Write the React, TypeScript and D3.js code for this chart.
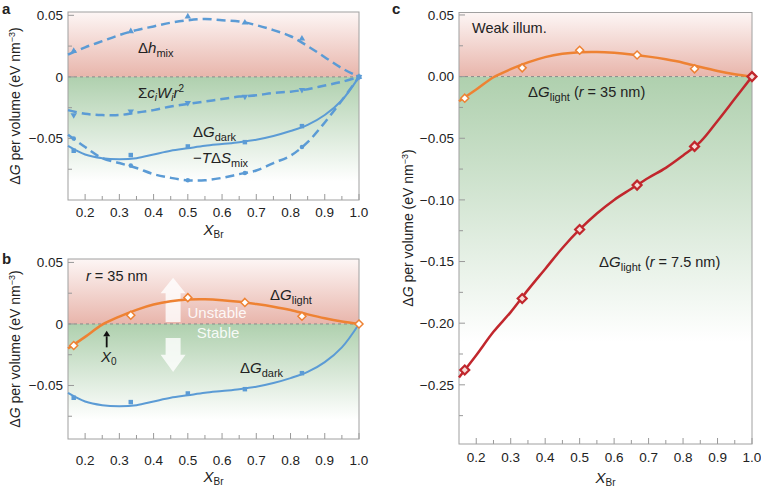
import React from "react";
import * as d3 from "d3";

const FONT = "'Liberation Sans', Arial, Helvetica, sans-serif";
const BLUE = "#5b9bd5";
const ORANGE = "#ee8233";
const RED = "#c1272d";
const TXT = "#222";

// ---------- data ----------
const markerX = [1 / 6, 1 / 3, 0.5, 2 / 3, 5 / 6, 1.0];
const fitX = [0.15, 0.2, 0.25, 0.3, 0.35, 0.4, 0.45, 0.5, 0.55, 0.6, 0.65, 0.7, 0.75, 0.8, 0.85, 0.9, 0.95, 1.0];

// panel a
const hmixMarkers = [0.021, 0.037, 0.049, 0.044, 0.031, 0];
const hmixFit = [0.018, 0.024, 0.029, 0.034, 0.038, 0.041, 0.044, 0.046, 0.047, 0.046, 0.045, 0.042, 0.038, 0.033, 0.025, 0.016, 0.007, 0];
const sigmaMarkers = [-0.031, -0.028, -0.021, -0.016, -0.0105, 0];
const sigmaFit = [-0.027, -0.03, -0.031, -0.031, -0.029, -0.027, -0.024, -0.022, -0.02, -0.018, -0.016, -0.015, -0.013, -0.012, -0.01, -0.007, -0.004, 0];
const tdsMarkers = [-0.05, -0.072, -0.084, -0.078, -0.057, 0];
const tdsFit = [-0.047, -0.057, -0.066, -0.07, -0.074, -0.079, -0.082, -0.084, -0.084, -0.082, -0.079, -0.076, -0.07, -0.064, -0.053, -0.037, -0.019, 0];
const darkMarkers = [-0.06, -0.0635, -0.0565, -0.053, -0.04, 0];
const darkFit = [-0.056, -0.063, -0.066, -0.0668, -0.066, -0.063, -0.06, -0.058, -0.056, -0.0545, -0.053, -0.051, -0.048, -0.044, -0.039, -0.031, -0.019, 0];

// panel b / c
const lightMarkers = [-0.0175, 0.0071, 0.0214, 0.0175, 0.0063, 0];
const lightFit = [-0.02, -0.0105, -0.0005, 0.006, 0.0115, 0.0158, 0.0185, 0.0198, 0.02, 0.0193, 0.018, 0.0162, 0.014, 0.0113, 0.0078, 0.0046, 0.002, 0];
const redMarkers = [-0.238, -0.18, -0.124, -0.088, -0.0566, 0];
const redFit = [-0.244, -0.226, -0.207, -0.191, -0.173, -0.156, -0.139, -0.124, -0.111, -0.1, -0.091, -0.082, -0.074, -0.064, -0.053, -0.036, -0.018, 0];

// ticks
const xTickLabels = [0.2, 0.3, 0.4, 0.5, 0.6, 0.7, 0.8, 0.9, 1.0];
const xMinorTicks = [0.25, 0.35, 0.45, 0.55, 0.65, 0.75, 0.85, 0.95];
const yTicksAB = [0.05, 0, -0.05];
const yMinorAB = [0.025, -0.025, -0.075];
const yTicksC = [0.05, 0, -0.05, -0.1, -0.15, -0.2, -0.25];
const yMinorC = [0.025, -0.025, -0.075, -0.125, -0.175, -0.225, -0.275];

type Sc = d3.ScaleLinear<number, number>;

const fmtAB = (v: number) => (v === 0 ? "0" : (v < 0 ? "\u2212" : "") + Math.abs(v).toFixed(2));
const fmtC = (v: number) => (v < 0 ? "\u2212" : "") + Math.abs(v).toFixed(2);

function Frame({ id, x, y, yTicks, yMinor, fmt, fadeVal, tickLabelY, xLabelY }: any) {
  const [x0, x1] = x.range();
  const [y1, y0] = y.range(); // y1 bottom, y0 top
  const yz = y(0);
  const yf = y(fadeVal);
  return (
    <g>
      <defs>
        <linearGradient id={id + "pink"} gradientUnits="userSpaceOnUse" x1={0} x2={0} y1={y0} y2={yz}>
          <stop offset="0" stopColor="#fdf6f5" />
          <stop offset="1" stopColor="#e8b5ab" />
        </linearGradient>
        <linearGradient id={id + "green"} gradientUnits="userSpaceOnUse" x1={0} x2={0} y1={yz} y2={yf}>
          <stop offset="0" stopColor="#afd0ae" />
          <stop offset="1" stopColor="#ffffff" />
        </linearGradient>
      </defs>
      <rect x={x0} y={y0} width={x1 - x0} height={yz - y0} fill={`url(#${id}pink)`} />
      <rect x={x0} y={yz} width={x1 - x0} height={y1 - yz} fill={`url(#${id}green)`} />
      <line x1={x0} x2={x1} y1={yz} y2={yz} stroke="#888" strokeWidth={1} strokeDasharray="3,3" />
      {xTickLabels.map((t) => (
        <line key={"xt" + t} x1={x(t)} x2={x(t)} y1={y1} y2={y1 - 6} stroke="#999" />
      ))}
      {xMinorTicks.map((t) => (
        <line key={"xm" + t} x1={x(t)} x2={x(t)} y1={y1} y2={y1 - 4} stroke="#999" />
      ))}
      {yTicks.map((t: number) => (
        <line key={"yt" + t} x1={x0} x2={x0 + 6} y1={y(t)} y2={y(t)} stroke="#999" />
      ))}
      {yMinor.map((t: number) => (
        <line key={"ym" + t} x1={x0} x2={x0 + 4} y1={y(t)} y2={y(t)} stroke="#999" />
      ))}
      <rect x={x0} y={y0} width={x1 - x0} height={y1 - y0} fill="none" stroke="#a0a0a0" strokeWidth={1} />
      {xTickLabels.map((t) => (
        <text key={"xl" + t} x={x(t)} y={tickLabelY} textAnchor="middle" fontSize={13.5} fill={TXT}>
          {t.toFixed(1)}
        </text>
      ))}
      {yTicks.map((t: number) => (
        <text key={"yl" + t} x={x0 - 5} y={y(t)} dy="0.35em" textAnchor="end" fontSize={13.5} fill={TXT}>
          {fmt(t)}
        </text>
      ))}
      <text x={(x0 + x1) / 2} y={xLabelY} textAnchor="middle" fontSize={15} fill={TXT}>
        <tspan fontStyle="italic">X</tspan>
        <tspan fontSize={10} dy={3}>Br</tspan>
      </text>
    </g>
  );
}

function YTitle({ x, y }: { x: number; y: number }) {
  return (
    <text transform={`translate(${x},${y}) rotate(-90)`} textAnchor="middle" fontSize={14} fill={TXT}>
      {"\u0394"}
      <tspan fontStyle="italic">G</tspan>
      {" per volume (eV nm"}
      <tspan fontSize={9} dy={-5}>{"\u22123"}</tspan>
      <tspan dy={5}>)</tspan>
    </text>
  );
}

function fitPath(x: Sc, y: Sc, vals: number[]) {
  const pts = fitX.map((v, i) => [x(v), y(vals[i])] as [number, number]);
  return d3.line().curve(d3.curveCatmullRom.alpha(0.5))(pts) || "";
}

function diamond(cx: number, cy: number, r: number) {
  return `M${cx},${cy - r}L${cx + r},${cy}L${cx},${cy + r}L${cx - r},${cy}Z`;
}

export default function App() {
  const xa = d3.scaleLinear().domain([0.15, 1.0]).range([68, 359]);
  const ya = d3.scaleLinear().domain([-0.1, 0.0527]).range([200, 12]);
  const xb = d3.scaleLinear().domain([0.15, 1.0]).range([68, 359]);
  const yb = d3.scaleLinear().domain([-0.0935, 0.0528]).range([439, 259]);
  const xc = d3.scaleLinear().domain([0.15, 1.0]).range([459, 752]);
  const yc = d3.scaleLinear().domain([-0.298, 0.052]).range([444, 12.5]);

  const tri = d3.symbol().type(d3.symbolTriangle).size(18);
  const sq = d3.symbol().type(d3.symbolSquare).size(20);
  const circ = d3.symbol().type(d3.symbolCircle).size(16);

  const arrow = (x: Sc, y: Sc, xv: number, from: number, base: number, tip: number, sw: number, hw: number) => {
    const cx = x(xv);
    const yF = y(from), yB = y(base), yT = y(tip);
    return `M${cx - sw},${yF}L${cx - sw},${yB}L${cx - hw},${yB}L${cx},${yT}L${cx + hw},${yB}L${cx + sw},${yB}L${cx + sw},${yF}Z`;
  };

  return (
    <svg width={761} height={489} style={{ position: "absolute", left: 0, top: 0, fontFamily: FONT }}>
      <rect width={761} height={489} fill="#fff" />

      {/* ================= panel a ================= */}
      <Frame id="a" x={xa} y={ya} yTicks={yTicksAB} yMinor={yMinorAB} fmt={fmtAB} fadeVal={-0.085} tickLabelY={217} xLabelY={235} />
      <YTitle x={20} y={106} />
      <text x={2} y={14} fontSize={15} fontWeight="bold" fill={TXT}>a</text>
      <path d={fitPath(xa, ya, hmixFit)} fill="none" stroke={BLUE} strokeWidth={2.5} strokeDasharray="9,5" />
      <path d={fitPath(xa, ya, sigmaFit)} fill="none" stroke={BLUE} strokeWidth={2.5} strokeDasharray="9,5" />
      <path d={fitPath(xa, ya, tdsFit)} fill="none" stroke={BLUE} strokeWidth={2.5} strokeDasharray="9,5" />
      <path d={fitPath(xa, ya, darkFit)} fill="none" stroke={BLUE} strokeWidth={2} />
      {markerX.map((v, i) => (
        <g key={"am" + i} fill={BLUE}>
          <path transform={`translate(${xa(v)},${ya(hmixMarkers[i])})`} d={tri() || ""} />
          <path transform={`translate(${xa(v)},${ya(sigmaMarkers[i])}) rotate(180)`} d={tri() || ""} />
          <path transform={`translate(${xa(v)},${ya(tdsMarkers[i])})`} d={circ() || ""} />
          <path transform={`translate(${xa(v)},${ya(darkMarkers[i])})`} d={sq() || ""} />
        </g>
      ))}
      <text x={138} y={53} fontSize={15} fill={TXT}>
        {"\u0394"}<tspan fontStyle="italic">h</tspan>
        <tspan fontSize={11} dy={4}>mix</tspan>
      </text>
      <text x={138} y={98} fontSize={15} fill={TXT}>
        {"\u03A3"}<tspan fontStyle="italic">c</tspan>
        <tspan fontSize={10} dy={3} fontStyle="italic">i</tspan>
        <tspan dy={-3} fontStyle="italic">W</tspan>
        <tspan fontSize={10} dy={3} fontStyle="italic">i</tspan>
        <tspan dy={-3} fontStyle="italic">r</tspan>
        <tspan fontSize={10} dy={-6}>2</tspan>
      </text>
      <text x={193} y={137} fontSize={15} fill={TXT}>
        {"\u0394"}<tspan fontStyle="italic">G</tspan>
        <tspan fontSize={11} dy={4}>dark</tspan>
      </text>
      <text x={193} y={163} fontSize={15} fill={TXT}>
        {"\u2212"}<tspan fontStyle="italic">T</tspan>{"\u0394"}<tspan fontStyle="italic">S</tspan>
        <tspan fontSize={11} dy={4}>mix</tspan>
      </text>

      {/* ================= panel b ================= */}
      <Frame id="b" x={xb} y={yb} yTicks={yTicksAB} yMinor={yMinorAB} fmt={fmtAB} fadeVal={-0.078} tickLabelY={465} xLabelY={482} />
      <YTitle x={20} y={349} />
      <text x={2} y={264} fontSize={15} fontWeight="bold" fill={TXT}>b</text>
      <path d={arrow(xb, yb, 0.457, 0.0016, 0.025, 0.0375, 7.5, 12.5)} fill="#fff" fillOpacity={0.8} />
      <path d={arrow(xb, yb, 0.457, -0.0114, -0.025, -0.039, 7.5, 12.5)} fill="#fff" fillOpacity={0.8} />
      <text x={xb(0.457) + 44} y={318} textAnchor="middle" fontSize={15} fill="#fff" fillOpacity={0.9}>Unstable</text>
      <text x={xb(0.457) + 45} y={338} textAnchor="middle" fontSize={15} fill="#fff" fillOpacity={0.9}>Stable</text>
      <path d={fitPath(xb, yb, lightFit)} fill="none" stroke={ORANGE} strokeWidth={2.5} />
      <path d={fitPath(xb, yb, darkFit)} fill="none" stroke={BLUE} strokeWidth={2} />
      {markerX.map((v, i) => (
        <g key={"bm" + i}>
          <path transform={`translate(${xb(v)},${yb(darkMarkers[i])})`} d={sq() || ""} fill={BLUE} />
          <path d={diamond(xb(v), yb(lightMarkers[i]), 4)} fill="#fff" stroke={ORANGE} strokeWidth={1.5} />
        </g>
      ))}
      <line x1={xb(0.263)} x2={xb(0.263)} y1={yb(-0.019)} y2={yb(-0.01)} stroke="#111" strokeWidth={1.8} />
      <path d={`M${xb(0.263) - 3.5},${yb(-0.01)}L${xb(0.263)},${yb(-0.0055)}L${xb(0.263) + 3.5},${yb(-0.01)}Z`} fill="#111" />
      <text x={101} y={362} fontSize={15} fill={TXT}>
        <tspan fontStyle="italic">X</tspan>
        <tspan fontSize={10} dy={3}>0</tspan>
      </text>
      <text x={86} y={281} fontSize={14.5} fill={TXT}>
        <tspan fontStyle="italic">r</tspan>{" = 35 nm"}
      </text>
      <text x={270} y={300} fontSize={15} fill={TXT}>
        {"\u0394"}<tspan fontStyle="italic">G</tspan>
        <tspan fontSize={11} dy={4}>light</tspan>
      </text>
      <text x={240} y={373} fontSize={15} fill={TXT}>
        {"\u0394"}<tspan fontStyle="italic">G</tspan>
        <tspan fontSize={11} dy={4}>dark</tspan>
      </text>

      {/* ================= panel c ================= */}
      <Frame id="c" x={xc} y={yc} yTicks={yTicksC} yMinor={yMinorC} fmt={fmtC} fadeVal={-0.215} tickLabelY={462} xLabelY={483} />
      <YTitle x={413} y={228} />
      <text x={392} y={14} fontSize={15} fontWeight="bold" fill={TXT}>c</text>
      <text x={472} y={33} fontSize={14.5} fill={TXT}>Weak illum.</text>
      <path d={fitPath(xc, yc, lightFit)} fill="none" stroke={ORANGE} strokeWidth={2.5} />
      <path d={fitPath(xc, yc, redFit)} fill="none" stroke={RED} strokeWidth={2.5} />
      {markerX.map((v, i) => (
        <g key={"cm" + i}>
          <path d={diamond(xc(v), yc(lightMarkers[i]), 4)} fill="#fff" stroke={ORANGE} strokeWidth={1.5} />
          <path d={diamond(xc(v), yc(redMarkers[i]), 4.5)} fill="#f6dcd8" stroke={RED} strokeWidth={2.2} />
        </g>
      ))}
      <text x={528} y={97} fontSize={15} fill={TXT}>
        {"\u0394"}<tspan fontStyle="italic">G</tspan>
        <tspan fontSize={11} dy={4}>light</tspan>
        <tspan dy={-4} fontSize={14.5}>{" ("}</tspan>
        <tspan fontStyle="italic" fontSize={14.5}>r</tspan>
        <tspan fontSize={14.5}>{" = 35 nm)"}</tspan>
      </text>
      <text x={599} y={267} fontSize={15} fill={TXT}>
        {"\u0394"}<tspan fontStyle="italic">G</tspan>
        <tspan fontSize={11} dy={4}>light</tspan>
        <tspan dy={-4} fontSize={14.5}>{" ("}</tspan>
        <tspan fontStyle="italic" fontSize={14.5}>r</tspan>
        <tspan fontSize={14.5}>{" = 7.5 nm)"}</tspan>
      </text>
    </svg>
  );
}
